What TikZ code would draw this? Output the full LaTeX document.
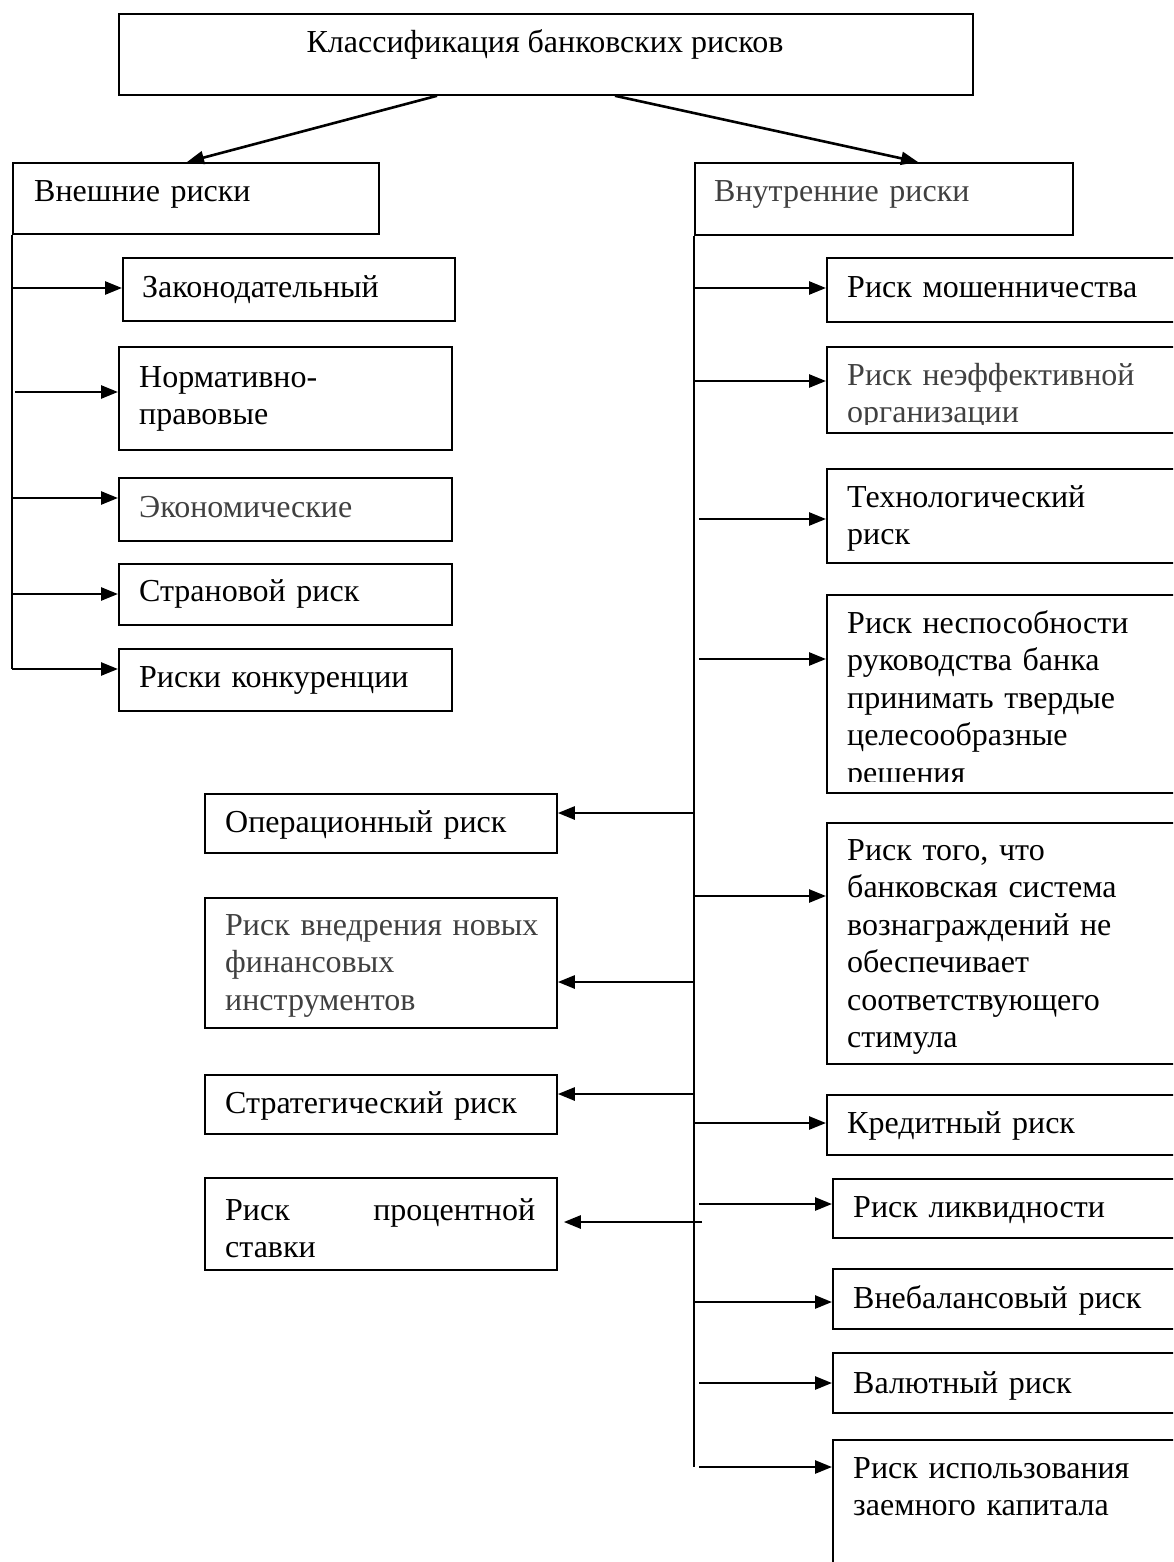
\documentclass[tikz,border=0pt]{standalone}
\usepackage{fontspec}
\setmainfont{Liberation Serif}
\usetikzlibrary{arrows.meta}
\definecolor{txtgray}{RGB}{64,64,64}
\begin{document}
\begin{tikzpicture}[x=1pt,y=-1pt,
  box/.style={draw, line width=1.8pt, inner sep=0pt, anchor=north west},
  ttl/.style={anchor=base, inner sep=0pt, font=\fontsize{32}{37.5}\selectfont},
  lbl/.style={anchor=base west, inner sep=0pt, align=left, text width=330pt, font=\fontsize{32}{37.5}\selectfont},
  lblg/.style={lbl, text=txtgray},
  arr/.style={line width=2.6pt, -{Triangle[length=17pt,width=13pt]}},
  spine/.style={line width=2pt}]
\useasboundingbox (0,0) rectangle (1173,1562);
\clip (0,0) rectangle (1173,1562);

% ---------- top and level 1 ----------
\node[box, minimum width=854pt, minimum height=81pt] (top) at (118,13) {};
\node[ttl] (ttop) at (545,53) {Классификация банковских рисков};

\node[box, minimum width=366pt, minimum height=71pt] (L0) at (12,162) {};
\node[lbl] (tL0) at (34,202) {Внешние риски};
\node[box, minimum width=378pt, minimum height=72pt] (R0) at (694,162) {};
\node[lblg] (tR0) at (714,202) {Внутренние риски};

\draw[arr] ([xshift=319pt]top.south west) -- ([xshift=175pt]L0.north west);
\draw[arr] ([xshift=497pt]top.south west) -- ([xshift=224pt]R0.north west);

% ---------- left column ----------
\node[box, minimum width=332pt, minimum height=63pt] (L1) at (122,257) {};
\node[lbl] (tL1) at (142,297) {Законодательный};
\node[box, minimum width=333pt, minimum height=103pt] (L2) at (118,346) {};
\node[lbl] (tL2) at (139,387) {Нормативно-\\правовые};
\node[box, minimum width=333pt, minimum height=63pt] (L3) at (118,477) {};
\node[lblg] (tL3) at (139,517) {Экономические};
\node[box, minimum width=333pt, minimum height=61pt] (L4) at (118,563) {};
\node[lbl] (tL4) at (139,601) {Страновой риск};
\node[box, minimum width=333pt, minimum height=62pt] (L5) at (118,648) {};
\node[lbl] (tL5) at (139,687) {Риски конкуренции};

\coordinate (sl1) at (12,288);
\coordinate (sl2) at (15,392);
\coordinate (sl3) at (12,498);
\coordinate (sl4) at (12,594);
\coordinate (sl5) at (12,669);
\draw[spine] (L0.south west) -- (sl5);
\draw[arr] (sl1) -- (sl1 -| L1.west);
\draw[arr] (sl2) -- (sl2 -| L2.west);
\draw[arr] (sl3) -- (sl3 -| L3.west);
\draw[arr] (sl4) -- (sl4 -| L4.west);
\draw[arr] (sl5) -- (sl5 -| L5.west);

% ---------- right column ----------
\node[box, minimum width=352pt, minimum height=64pt] (R1) at (826,257) {};
\node[lbl] (tR1) at (847,297) {Риск мошенничества};
\node[box, minimum width=352pt, minimum height=86pt] (R2) at (826,346) {};
\begin{scope}
  \clip (820,340) rectangle (1180,424);
  \node[lblg] (tR2) at (847,385) {Риск неэффективной\\организации};
\end{scope}
\node[box, minimum width=352pt, minimum height=94pt] (R3) at (826,468) {};
\node[lbl] (tR3) at (847,507) {Технологический\\риск};
\node[box, minimum width=352pt, minimum height=198pt] (R4) at (826,594) {};
\begin{scope}
  \clip (820,590) rectangle (1180,781);
  \node[lbl] (tR4) at (847,633) {Риск неспособности\\руководства банка\\принимать твердые\\целесообразные\\решения};
\end{scope}
\node[box, minimum width=352pt, minimum height=241pt] (R5) at (826,822) {};
\node[lbl] (tR5) at (847,860) {Риск того, что\\банковская система\\вознаграждений не\\обеспечивает\\соответствующего\\стимула};
\node[box, minimum width=352pt, minimum height=60pt] (R6) at (826,1094) {};
\node[lbl] (tR6) at (847,1133) {Кредитный риск};
\node[box, minimum width=346pt, minimum height=59pt] (R7) at (832,1178) {};
\node[lbl] (tR7) at (853,1217) {Риск ликвидности};
\node[box, minimum width=346pt, minimum height=60pt] (R8) at (832,1268) {};
\node[lbl] (tR8) at (853,1308) {Внебалансовый риск};
\node[box, minimum width=346pt, minimum height=60pt] (R9) at (832,1352) {};
\node[lbl] (tR9) at (853,1393) {Валютный риск};
\node[box, minimum width=346pt, minimum height=140pt] (R10) at (832,1439) {};
\node[lbl] (tR10) at (853,1478) {Риск использования\\заемного капитала};

\coordinate (sr1) at (694,288);
\coordinate (sr2) at (694,381);
\coordinate (sr3) at (699,519);
\coordinate (sr4) at (699,659);
\coordinate (sr5) at (694,896);
\coordinate (sr6) at (694,1123);
\coordinate (sr7) at (699,1204);
\coordinate (sr8) at (694,1302);
\coordinate (sr9) at (699,1383);
\coordinate (sr10) at (699,1467);
\coordinate (rend) at (694,1467);
\draw[spine] (R0.south west) -- (rend);
\draw[arr] (sr1) -- (sr1 -| R1.west);
\draw[arr] (sr2) -- (sr2 -| R2.west);
\draw[arr] (sr3) -- (sr3 -| R3.west);
\draw[arr] (sr4) -- (sr4 -| R4.west);
\draw[arr] (sr5) -- (sr5 -| R5.west);
\draw[arr] (sr6) -- (sr6 -| R6.west);
\draw[arr] (sr7) -- (sr7 -| R7.west);
\draw[arr] (sr8) -- (sr8 -| R8.west);
\draw[arr] (sr9) -- (sr9 -| R9.west);
\draw[arr] (sr10) -- (sr10 -| R10.west);

% ---------- middle column ----------
\node[box, minimum width=352pt, minimum height=59pt] (M1) at (204,793) {};
\node[lbl] (tM1) at (225,832) {Операционный риск};
\node[box, minimum width=352pt, minimum height=130pt] (M2) at (204,897) {};
\node[lblg] (tM2) at (225,935) {Риск внедрения новых\\финансовых\\инструментов};
\node[box, minimum width=352pt, minimum height=59pt] (M3) at (204,1074) {};
\node[lbl] (tM3) at (225,1113) {Стратегический риск};
\node[box, minimum width=352pt, minimum height=92pt] (M4) at (204,1177) {};
\node[lbl] (tM4) at (225,1220) {\makebox[310pt][l]{Риск\hfill процентной}\\ставки};

\coordinate (sm1) at (694,813);
\coordinate (sm2) at (694,982);
\coordinate (sm3) at (694,1094);
\coordinate (sm4) at (702,1222);
\draw[arr] (sm1) -- (sm1 -| M1.east);
\draw[arr] (sm2) -- (sm2 -| M2.east);
\draw[arr] (sm3) -- (sm3 -| M3.east);
\draw[arr, shorten >=6pt] (sm4) -- (sm4 -| M4.east);
\end{tikzpicture}
\end{document}
